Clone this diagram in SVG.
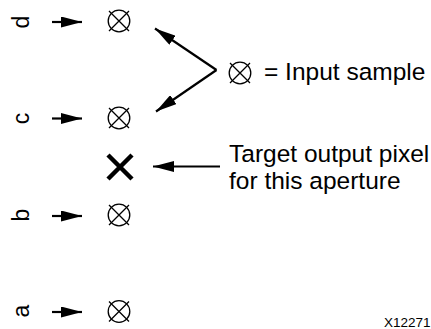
<svg xmlns="http://www.w3.org/2000/svg" width="431" height="329" viewBox="0 0 431 329">
<style>
.lbl{font-family:"Liberation Sans",Arial,sans-serif;font-size:23px;fill:#000;text-anchor:middle}
.txt{font-family:"Liberation Sans",Arial,sans-serif;font-size:24.5px;fill:#000}
.sm{font-family:"Liberation Sans",Arial,sans-serif;font-size:13.5px;fill:#000}
.con{stroke:#000;stroke-width:2.2;fill:none}
.sym{stroke:#000;stroke-width:1.3;fill:none}
</style>
<defs>
<marker id="ah" viewBox="0 0 21 11" refX="21" refY="5.5" markerWidth="21" markerHeight="11" markerUnits="userSpaceOnUse" orient="auto">
<path d="M0,0 L21,5.5 L0,11 z" fill="#000"/>
</marker>
<g id="ox">
<circle cx="0" cy="0" r="10.8" class="sym"/>
<path d="M-10,-10 L10,10 M10,-10 L-10,10" class="sym"/>
</g>
</defs>
<rect width="431" height="329" fill="#fff"/>
<g id="labels">
<text class="lbl" transform="translate(29,22) rotate(-90)">d</text>
<text class="lbl" transform="translate(29,118.5) rotate(-90)">c</text>
<text class="lbl" transform="translate(29,215) rotate(-90)">b</text>
<text class="lbl" transform="translate(29,311) rotate(-90)">a</text>
</g>
<g id="sample-d"><use href="#ox" x="119" y="21"/></g>
<g id="sample-c"><use href="#ox" x="119" y="118"/></g>
<g id="sample-b"><use href="#ox" x="119" y="215"/></g>
<g id="sample-a"><use href="#ox" x="119" y="311.5"/></g>
<g id="target"><path d="M108,155 L132,179 M132,155 L108,179" stroke="#000" stroke-width="4.5" fill="none"/></g>
<g id="legend-sample">
<use href="#ox" x="240" y="73"/>
<text class="txt" x="264" y="79.5">= Input sample</text>
</g>
<g id="legend-target">
<text class="txt" x="229" y="162">Target output pixel</text>
<text class="txt" x="229" y="189">for this aperture</text>
</g>
<g id="connectors">
<line class="con" x1="52" y1="22" x2="82" y2="22" marker-end="url(#ah)"/>
<line class="con" x1="52" y1="118.5" x2="82" y2="118.5" marker-end="url(#ah)"/>
<line class="con" x1="52" y1="216" x2="82" y2="216" marker-end="url(#ah)"/>
<line class="con" x1="52" y1="312" x2="82" y2="312" marker-end="url(#ah)"/>
<line class="con" x1="216.5" y1="70" x2="155" y2="28.5" marker-end="url(#ah)"/>
<line class="con" x1="216.5" y1="70" x2="156" y2="111.5" marker-end="url(#ah)"/>
<line class="con" x1="220" y1="166.5" x2="153" y2="166.5" marker-end="url(#ah)"/>
</g>
<text class="sm" x="384" y="326.5">X12271</text>
</svg>
